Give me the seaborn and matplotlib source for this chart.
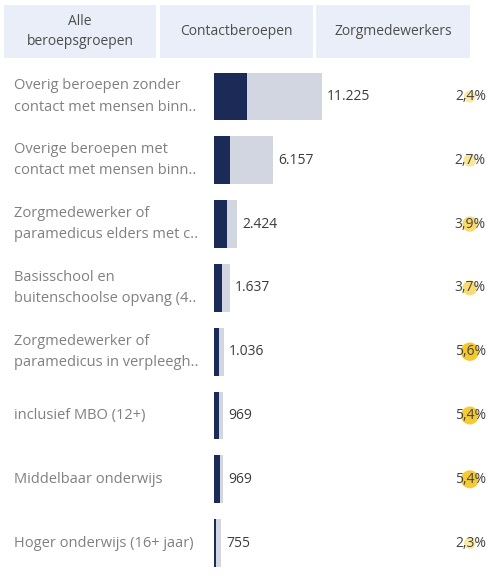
import matplotlib
matplotlib.use("Agg")
import matplotlib.pyplot as plt
import matplotlib.transforms as mtrans
from matplotlib.patches import Rectangle
from matplotlib.colors import LinearSegmentedColormap
import seaborn as sns
import pandas as pd

# ---------------- data ----------------
categories = [
    "Overig beroepen zonder\ncontact met mensen binn..",
    "Overige beroepen met\ncontact met mensen binn..",
    "Zorgmedewerker of\nparamedicus elders met c..",
    "Basisschool en\nbuitenschoolse opvang (4..",
    "Zorgmedewerker of\nparamedicus in verpleegh..",
    "inclusief MBO (12+)",
    "Middelbaar onderwijs",
    "Hoger onderwijs (16+ jaar)",
]
totals = [11225, 6157, 2424, 1637, 1036, 969, 969, 755]
contact = [3430, 1660, 1320, 830, 480, 560, 600, 240]
zorg_pct = [2.4, 2.7, 3.9, 3.7, 5.6, 5.4, 5.4, 2.3]
headers = ["Alle\nberoepsgroepen", "Contactberoepen", "Zorgmedewerkers"]

df = pd.DataFrame({"cat": categories, "total": totals,
                   "contact": contact, "pct": zorg_pct})
df["pos"] = 0.61

# ---------------- style ----------------
sns.set_style("white")
plt.rcParams["font.family"] = ["Open Sans", "DejaVu Sans"]

W, H = 489, 582
fig = plt.figure(figsize=(W / 100, H / 100), dpi=100)
fig.patch.set_facecolor("white")

LIGHT = "#d1d6e1"
DARK = "#1b2a57"
ROW0, STEP = 96.5, 63.8
ylim = ((H - ROW0) / STEP, -ROW0 / STEP)

# overlay axes in pixel units for header
hax = fig.add_axes([0, 0, 1, 1], zorder=0)
hax.set_xlim(0, W)
hax.set_ylim(H, 0)
hax.axis("off")
cells = [(4, 156), (160, 313), (316, 470)]
for (x0, x1), txt in zip(cells, headers):
    hax.add_patch(Rectangle((x0, 5), x1 - x0, 53, facecolor="#e9eef8",
                            edgecolor="none"))
    hax.text((x0 + x1) / 2, 31.5, txt, ha="center", va="center",
             fontsize=10, color="#4d4d4d", linespacing=1.5)

# bar axes
bx0 = 214
ax = fig.add_axes([bx0 / W, 0, (W - bx0) / W, 1], zorder=1)
ax.patch.set_alpha(0)
sns.barplot(data=df, x="total", y="cat", color=LIGHT, saturation=1,
            width=0.75, linewidth=0, ax=ax)
sns.barplot(data=df, x="contact", y="cat", color=DARK, saturation=1,
            width=0.75, linewidth=0, ax=ax)
ax.set_xlim(0, 11225 * (W - bx0) / 108)
ax.set_ylim(*ylim)
ax.axis("off")

off = 5 * 11225 / 108
for i, v in enumerate(totals):
    ax.text(v + off, i, f"{v:,}".replace(",", "."), ha="left", va="center",
            fontsize=10, color="#3c3c3c")

# row labels
tr = mtrans.blended_transform_factory(fig.transFigure, ax.transData)
for i, c in enumerate(categories):
    ax.text(14 / W, i, c, transform=tr, ha="left", va="center",
            fontsize=10.5, color="#808080", linespacing=1.55)

# percent column
px0 = 440
pax = fig.add_axes([px0 / W, 0, (W - px0) / W, 1], zorder=2)
pax.patch.set_alpha(0)
cmap = LinearSegmentedColormap.from_list("y", ["#faeaa6", "#f6c72f"])
sns.scatterplot(data=df, x="pos", y="cat", hue="pct", palette=cmap,
                hue_norm=(2.3, 5.6), size="pct",
                sizes=(31 * 2.3, 31 * 5.6), size_norm=(2.3, 5.6),
                linewidth=0, legend=False, ax=pax, zorder=1)
pax.set_xlim(0, 1)
pax.set_ylim(*ylim)
pax.axis("off")
for i, p in enumerate(zorg_pct):
    pax.text(0.62, i, f"{p:.1f}".replace(".", ",") + "%", ha="center",
             va="center", fontsize=10, color="#444444", zorder=3)

fig.savefig("out.png", dpi=100, facecolor="white")
